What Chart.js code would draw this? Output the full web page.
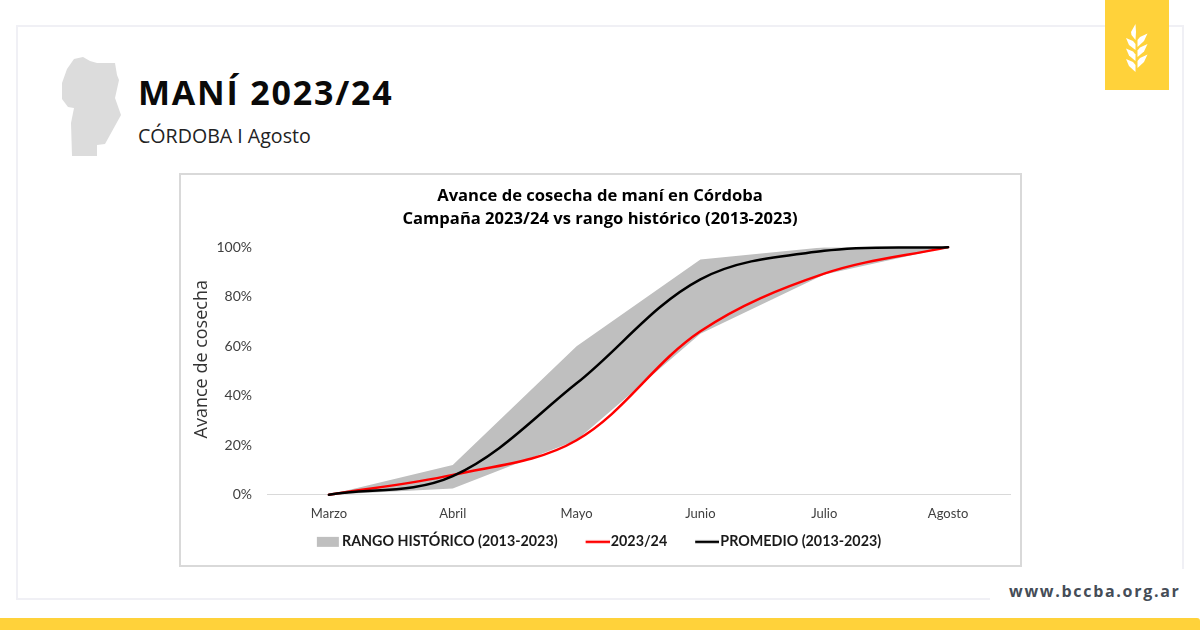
<!DOCTYPE html>
<html lang="es">
<head>
<meta charset="utf-8">
<title>Maní 2023/24</title>
<script src="https://cdn.jsdelivr.net/npm/chart.js@4"></script>
<style>
  html, body { margin: 0; padding: 0; background: #fff; }
  body { position: relative; width: 1200px; height: 630px; overflow: hidden; font-family: "Open Sans", sans-serif; }
  .abs { position: absolute; }
  #frame { left: 16px; top: 25px; width: 1164px; height: 571px; border: 2px solid #f0f0f5; }
  #frameCut { left: 990px; top: 569px; width: 210px; height: 40px; background: #fff; }
  #logo { left: 1105px; top: 0; width: 64px; height: 90px; background: #ffd23a; }
  #art { left: 0; top: 0; }
  #title { left: 138px; top: 69px; font-size: 34px; font-weight: 700; letter-spacing: 1.8px; color: #0a0a0a; line-height: 46px; white-space: nowrap; }
  #subtitle { left: 138px; top: 123px; font-size: 19.6px; color: #222; line-height: 26px; white-space: nowrap; }
  #box { left: 179px; top: 173px; width: 839px; height: 390px; border: 2px solid #d9d9d9; background: #fff; }
  #box canvas { display: block; }
  #web { left: 1009px; top: 580px; font-size: 16px; font-weight: 700; letter-spacing: 1.7px; color: #454d57; line-height: 22px; white-space: nowrap; }
  #bar { left: 0; top: 618px; width: 1200px; height: 12px; background: #ffd23a; border-top-right-radius: 3px; }
</style>
</head>
<body>
<div class="abs" id="frame"></div>
<div class="abs" id="frameCut"></div>
<div class="abs" id="logo"></div>
<svg class="abs" id="art" width="1200" height="630">
  <polygon fill="#dcdcdc" points="74,59 83,57 90,61 97,63 115,63 117,75 119,80 115,98 121,115 105,144 97,145 97,156 72,156 71,123 74,108 68,107 62,99 62,83 67,69"/>
  <g fill="#fff">
    <path d="M1135.5,24 L1131,32 L1131.5,35 L1135.5,40 L1136,32 Z"/>
    <path d="M1126,38 L1133,41 L1135.5,44 L1135.5,50 L1129,45 Z"/>
    <path d="M1126,48.500 L1133,51.500 L1135.500,54.500 L1135.500,61 L1129,55.500 Z"/>
    <path d="M1126,59 L1133,62 L1135.500,65 L1135.500,72 L1129,66 Z"/>
    <path d="M1147.500,33.500 L1140,37 L1137.500,40 L1137.500,47 L1144,41 Z"/>
    <path d="M1147.500,44 L1140,47.500 L1137.500,50.500 L1137.500,57 L1144,51.500 Z"/>
    <path d="M1147.500,54.500 L1140,58 L1137.500,61 L1137.500,68 L1144,62 Z"/>
  </g>
</svg>
<div class="abs" id="title">MANÍ 2023/24</div>
<div class="abs" id="subtitle">CÓRDOBA I Agosto</div>
<div class="abs" id="box"><canvas id="chart" width="839" height="390"></canvas></div>
<div class="abs" id="web">www.bccba.org.ar</div>
<div class="abs" id="bar"></div>

<script>
var meses = ['Marzo', 'Abril', 'Mayo', 'Junio', 'Julio', 'Agosto'];
var rangoMax = [0, 12, 60, 95, 100, 100];
var rangoMin = [0, 2.5, 22, 65, 89, 100];
var campana = [0, 8, 22, 66, 89.3, 100];
var promedio = [0, 7.5, 45, 87, 98.5, 100];
var titulo = ['Avance de cosecha de maní en Córdoba', 'Campaña 2023/24 vs rango histórico (2013-2023)'];
var leyenda = ['RANGO HISTÓRICO (2013-2023)', '2023/24', 'PROMEDIO (2013-2023)'];

var GRIS = '#bfbfbf', ROJO = '#ff0000', NEGRO = '#000000';

// muestra de la leyenda: mas ancha que su caja para quedar pegada al texto
function muestra(color, x, ancho, alto) {
  var c = document.createElement('canvas');
  c.width = 28; c.height = 12;
  var g = c.getContext('2d');
  g.fillStyle = color;
  g.fillRect(x, (12 - alto) / 2, ancho, alto);
  return c;
}

new Chart(document.getElementById('chart'), {
  type: 'line',
  data: {
    labels: meses,
    datasets: [
      { label: leyenda[0], data: rangoMax, order: 3, tension: 0, borderWidth: 0, pointRadius: 0, fill: '+1', backgroundColor: GRIS },
      { label: 'min', data: rangoMin, order: 3, tension: 0, borderWidth: 0, pointRadius: 0, fill: false },
      { label: leyenda[1], data: campana, order: 2, tension: 0.35, capBezierPoints: false, borderColor: ROJO, borderWidth: 2.5, pointRadius: 0, fill: false, clip: false, borderCapStyle: 'round' },
      { label: leyenda[2], data: promedio, order: 1, tension: 0.35, capBezierPoints: false, borderColor: NEGRO, borderWidth: 2.5, pointRadius: 0, fill: false, clip: false, borderCapStyle: 'round' }
    ]
  },
  options: {
    responsive: false,
    animation: false,
    layout: { padding: { left: 9, right: 10, top: 10, bottom: 6 } },
    plugins: {
      tooltip: { enabled: false },
      title: {
        display: true,
        text: titulo,
        color: '#000',
        font: { family: '"Open Sans"', size: 16.6, weight: '700', lineHeight: 1.39 },
        padding: { top: 0, bottom: 16 }
      },
      legend: {
        position: 'bottom',
        labels: {
          usePointStyle: true,
          pointStyleWidth: 16,
          boxHeight: 12,
          padding: 30,
          color: '#1a1a1a',
          font: { family: 'Lato', size: 14.3, weight: '700' },
          generateLabels: function () {
            return [
              { text: leyenda[0], pointStyle: muestra(GRIS, 4, 22, 10), fontColor: '#1a1a1a', lineWidth: 0, hidden: false },
              { text: leyenda[1], pointStyle: muestra(ROJO, 4, 24, 2.5), fontColor: '#1a1a1a', lineWidth: 0, hidden: false },
              { text: leyenda[2], pointStyle: muestra(NEGRO, 4, 24, 2.5), fontColor: '#1a1a1a', lineWidth: 0, hidden: false }
            ];
          }
        }
      }
    },
    scales: {
      x: {
        offset: true,
        afterFit: function (s) { s.height = 10; },
        grid: { display: false, drawTicks: false, offset: false },
        border: { color: '#d9d9d9', width: 1 },
        // mirror evita el recorte de las etiquetas al alto fijo del eje
        ticks: { mirror: true, color: '#404040', font: { family: 'Lato', size: 13 }, padding: -27, maxRotation: 0 }
      },
      y: {
        min: 0,
        max: 100,
        afterFit: function (s) { s.width = 77; },
        grid: { display: false, drawTicks: false },
        border: { display: false },
        ticks: {
          stepSize: 20,
          color: '#404040',
          padding: 15,
          font: { family: 'Lato', size: 14 },
          callback: function (v) { return v + '%'; }
        },
        title: {
          display: true,
          // los espacios iniciales suben el rotulo, como en el original
          text: '\u00a0\u00a0\u00a0\u00a0\u00a0Avance de cosecha',
          color: '#333',
          font: { family: '"Open Sans"', size: 18 },
          padding: { top: 1, bottom: 0 }
        }
      }
    }
  }
});
</script>
</body>
</html>
